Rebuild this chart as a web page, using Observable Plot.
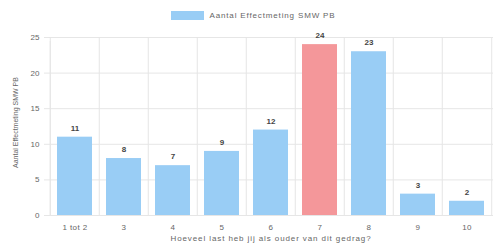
<!DOCTYPE html>
<html><head><meta charset="utf-8">
<script src="https://cdn.jsdelivr.net/npm/d3@7"></script>
<script src="https://cdn.jsdelivr.net/npm/@observablehq/plot@0.6"></script>
<style>
body{margin:0;background:#fff;font-family:"Liberation Sans",Arial,sans-serif;}
#legend{height:30px;display:flex;align-items:center;justify-content:center;font-size:8px;color:#666;padding-left:12px;box-sizing:border-box;letter-spacing:0.85px;}
#legend .sw{width:33px;height:9px;background:#99cdf5;margin-right:6px;}
</style></head>
<body>
<div id="legend"><span class="sw"></span><span>Aantal Effectmeting SMW PB</span></div>
<div id="chart"></div>
<script>
const categories = ["1 tot 2","3","4","5","6","7","8","9","10"];
const values = [11,8,7,9,12,24,23,3,2];
const highlight = ["7"];
const yTicks = [0,5,10,15,20,25];
const seriesName = "Aantal Effectmeting SMW PB";
const xTitle = "Hoeveel last heb jij als ouder van dit gedrag?";
const yTitle = "Aantal Effectmeting SMW PB";

const data = categories.map((c,i)=>({cat:c, value:values[i]}));
const W = 494, H = 216, ML = 48, MR = 1;
const step = (W-ML-MR)/categories.length;

const chart = Plot.plot({
  width: W, height: H,
  marginLeft: ML, marginRight: MR, marginTop: 7, marginBottom: 31,
  style:{fontFamily:"'Liberation Sans',Arial,sans-serif", fontSize:"8px", color:"#666", background:"#fff"},
  x:{type:"band", domain:categories, paddingInner:0.28, paddingOuter:0.14, label:null},
  y:{domain:[0,25], ticks:yTicks, label:null},
  marks:[
    Plot.ruleY(yTicks, {stroke:"#e6e6e6", insetLeft:-4}),
    Plot.ruleX(categories, {x:d=>d, dx:-step/2, stroke:"#e6e6e6"}),
    Plot.ruleX([categories[categories.length-1]], {x:d=>d, dx:step/2, stroke:"#e6e6e6"}),
    Plot.ruleX([categories[0]], {x:d=>d, dx:-step/2, y1:0, y2:25, stroke:"#e6e6e6", insetBottom:-4}),
    Plot.barY(data, {x:"cat", y:"value", fill:d=>highlight.includes(d.cat)?"#f4979a":"#99cdf5"}),
    Plot.text(data, {x:"cat", y:"value", text:d=>String(d.value), dy:-9, fill:"#444", fontWeight:"bold", fontSize:8}),
    Plot.axisX({tickSize:0, tickPadding:9, fill:"#666", label:null}),
    Plot.axisY({ticks:yTicks, tickSize:0, tickPadding:9, fill:"#666", label:null}),
    Plot.text([xTitle], {frameAnchor:"bottom", dy:25, fill:"#666", fontSize:8}),
    Plot.text([yTitle], {frameAnchor:"left", textAnchor:"middle", dx:-33, dy:-4, rotate:-90, fill:"#666", fontSize:7})
  ]
});
chart.querySelectorAll("g[aria-label='x-axis tick label'] text").forEach(t=>t.setAttribute("letter-spacing","0.4"));
const texts = chart.querySelectorAll("g[aria-label='text'] text");
texts.forEach(t=>{ if (t.textContent===xTitle) t.setAttribute("letter-spacing","0.9"); });
document.getElementById("chart").appendChild(chart);
</script>
</body></html>
